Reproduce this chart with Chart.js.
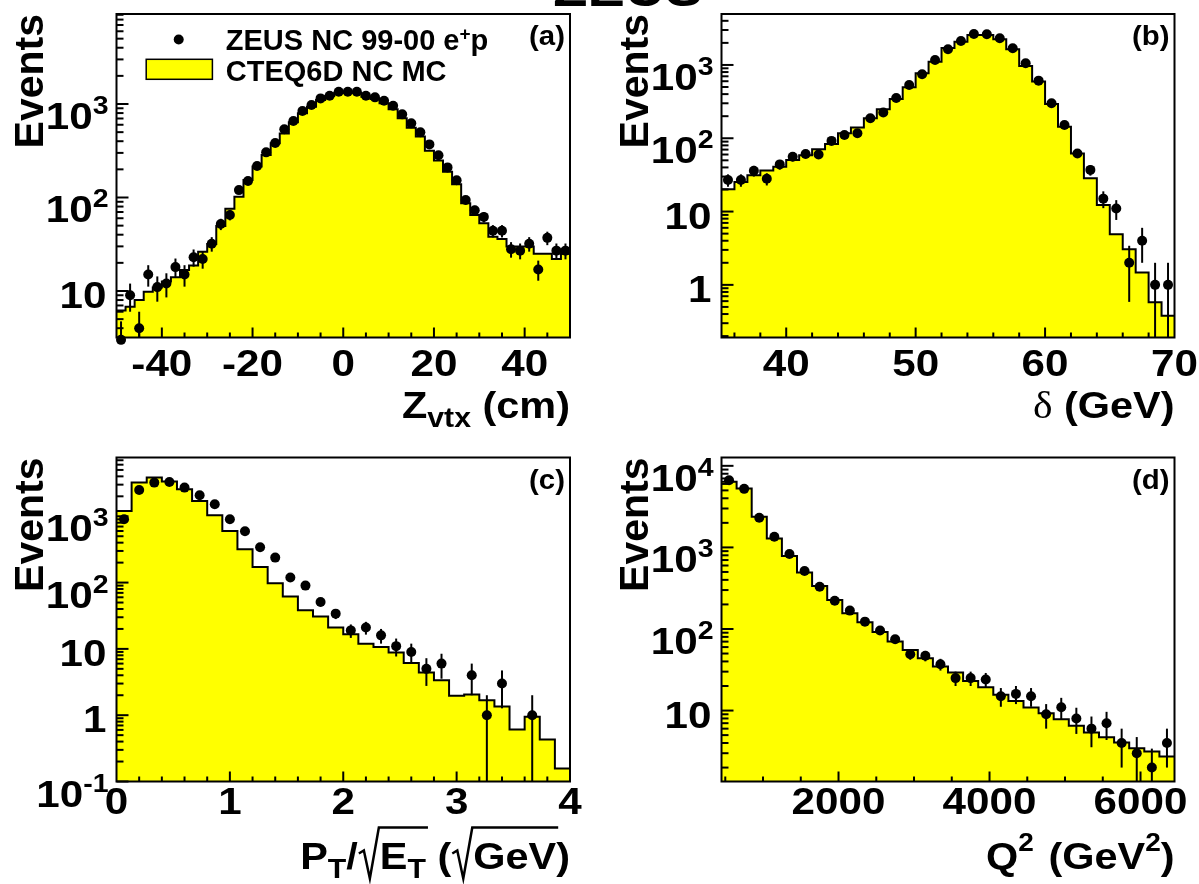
<!DOCTYPE html>
<html>
<head>
<meta charset="utf-8">
<script src="https://cdn.jsdelivr.net/npm/chart.js@4.4.1/dist/chart.umd.min.js"></script>
<style>
html,body{margin:0;padding:0;background:#fff;width:1199px;height:884px;overflow:hidden}
canvas{position:absolute;left:0;top:0}
</style>
</head>
<body>
<canvas id="ca" width="1199" height="884"></canvas>
<canvas id="cb" width="1199" height="884"></canvas>
<canvas id="cc" width="1199" height="884"></canvas>
<canvas id="cd" width="1199" height="884"></canvas>
<script>
// ---------------- data ----------------
// (a) Z_vtx, 50 bins from -50 to 50 cm
const zvtxRange = [-50, 50];
const zvtxData = [3, 9, 4, 15, 11, 12, 18, 15, 23, 22, 32, 52, 65, 120, 150, 217, 304, 383, 536, 658,
  841, 975, 1148, 1227, 1350, 1355, 1355, 1227, 1178, 1086, 960, 775, 621, 498, 370, 283, 210, 153, 94, 73,
  62, 44, 44, 28, 27, 32, 17, 37, 27, 27];
const zvtxMC = [6.2, 6.8, 8.0, 9.8, 10.9, 12.6, 14.0, 16.8, 18.7, 26.3, 31.8, 49.6, 76, 102, 154, 214, 285, 380, 485, 637,
  795, 935, 1104, 1218, 1322, 1340, 1320, 1197, 1130, 1016, 877, 703, 559, 448, 317, 248, 189, 139, 87, 65,
  53, 38, 36, 30, 30, 30, 25, 25, 22, 25];
const zvtxYRange = [3.18, 9180];
const zvtxTicks = [-40, -20, 0, 20, 40];
const zvtxDecades = [1, 2, 3];

// (b) delta, 35 bins from 35 to 70 GeV
const deltaRange = [35, 70];
const deltaData = [27, 27, 36, 28, 44, 56, 61, 60, 92, 111, 117, 187, 224, 355, 534, 746, 1170, 1637, 2125, 2646,
  2618, 2310, 1687, 1054, 611, 300, 152, 62, 37, 15, 11, 2, 4, 1, 1];
const deltaMC = [20.2, 25.4, 31.3, 36.2, 41, 50.7, 58.6, 70.8, 83.7, 117, 140, 187, 248, 344, 496, 770, 1110, 1700, 2080, 2565,
  2565, 2240, 1636, 969, 593, 294, 144, 62, 28.5, 12.3, 4.9, 3.07, 1.47, 0.58, 0.38];
const deltaYRange = [0.1914, 4955];
const deltaTicks = [40, 50, 60, 70];
const deltaDecades = [0, 1, 2, 3];

// (c) PT/sqrt(ET), 30 bins from 0 to 4
const ptRange = [0, 4];
const ptData = [901, 2495, 3220, 3296, 2706, 2073, 1517, 901, 594, 341, 238, 119, 90, 51, 34,
  19, 21, 16, 11, 9, 5, 6, null, 4, 1, 3, null, 1, null, null];
const ptMC = [1203, 3220, 3830, 3333, 2553, 1702, 1035, 601, 318, 172, 98, 61.5, 38.3, 30.7, 21,
  16.6, 12.0, 10.7, 8.8, 6.1, 4.4, 3.37, 1.96, 2.05, 1.68, 1.35, 0.61, 0.95, 0.43, 0.157];
const ptYRange = [0.1, 7700];
const ptTicks = [0, 1, 2, 3, 4];
const ptDecades = [-1, 0, 1, 2, 3];

// (d) Q^2, 30 bins from 450 to 6450 GeV^2
const q2Range = [450, 6450];
const q2Data = [6670, 5220, 2310, 1350, 830, 513, 330, 222, 168, 123, 96, 75, 49, 47, 37,
  25, 25, 24, 15, 16, 15, 9, 11, 8, 6, 7, 4, 3, 2, 4];
const q2MC = [6370, 5275, 2376, 1288, 783, 494, 336, 226, 156, 121, 92, 70, 55.3, 43.7, 34.6,
  29.2, 23.1, 19.3, 15.6, 13.1, 10.9, 9.3, 7.8, 6.5, 5.4, 4.7, 4.05, 3.46, 3.15, 2.74];
const q2YRange = [1.35, 12650];
const q2Ticks = [2000, 4000, 6000];
const q2Decades = [1, 2, 3, 4];

const legendData = 'ZEUS NC 99-00 e';
const legendMC = 'CTEQ6D NC MC';

// ---------------- helpers ----------------
const FONT = '"Liberation Sans", Arial, Helvetica, sans-serif';
const SERIF = '"Liberation Serif", "DejaVu Serif", serif';
const YELLOW = '#ffff00';

function binEdges(range, n) {
  const w = (range[1] - range[0]) / n;
  const e = [];
  for (let i = 0; i <= n; i++) e.push(range[0] + i * w);
  return e;
}
function histPoints(values, range) {
  const e = binEdges(range, values.length);
  const pts = values.map((v, i) => ({x: e[i], y: v}));
  pts.push({x: e[values.length], y: values[values.length - 1]});
  return pts;
}
function dataPoints(values, range) {
  const e = binEdges(range, values.length);
  const pts = [];
  values.forEach((v, i) => { if (v !== null && v > 0) pts.push({x: (e[i] + e[i + 1]) / 2, y: v}); });
  return pts;
}

function drawParts(ctx, parts, x, y, align, base) {
  const ps = parts.map(p => {
    const q = Object.assign({size: base.size, sx: base.sx, weight: 'bold', family: FONT, dy: 0}, p);
    if (q.rad) { q.w = q.radW || 22; return q; }
    ctx.font = q.weight + ' ' + q.size + 'px ' + q.family;
    q.w = ctx.measureText(q.t).width * q.sx + (q.pad || 0);
    return q;
  });
  const total = ps.reduce((s, p) => s + p.w, 0);
  let cx = align === 'right' ? x - total : align === 'center' ? x - total / 2 : x;
  const xs = [];
  ps.forEach(p => { xs.push(cx); cx += p.w; });
  ps.forEach((p, i) => {
    if (p.rad) {
      let end = xs[i] + p.w;
      for (let k = 1; k <= p.rad; k++) end = xs[i + k] + ps[i + k].w;
      const x0 = xs[i];
      ctx.save();
      ctx.strokeStyle = '#000'; ctx.lineWidth = 2.5; ctx.lineJoin = 'miter';
      ctx.beginPath();
      ctx.moveTo(x0 + 1, y - 15); ctx.lineTo(x0 + 6, y - 18); ctx.lineTo(x0 + 12, y + 10);
      ctx.lineTo(x0 + p.w - 1, y - 41); ctx.lineTo(end + 2, y - 41);
      ctx.stroke();
      ctx.restore();
    } else {
      ctx.save();
      ctx.font = p.weight + ' ' + p.size + 'px ' + p.family;
      ctx.fillStyle = '#000'; ctx.textAlign = 'left'; ctx.textBaseline = 'alphabetic';
      ctx.translate(xs[i], y + p.dy); ctx.scale(p.sx, 1);
      ctx.fillText(p.t, 0, 0);
      ctx.restore();
    }
  });
  return total;
}

// ---------------- panels ----------------
const TITLE = {size: 37, sx: 1.12};
const panels = {
  ca: {frame: {l: 116.5, r: 570, t: 14, b: 337.5}, xr: zvtxRange, yr: zvtxYRange, data: zvtxData, mc: zvtxMC,
       xTicks: zvtxTicks, xMinor: 5, yDecades: zvtxDecades, tag: '(a)', tickDy: 38, titleDy: 80,
       title: [{t: 'Z'}, {t: 'vtx', size: 27, dy: 9}, {t: ' (cm)'}], legend: true, zeus: true},
  cb: {frame: {l: 721.5, r: 1174.5, t: 14, b: 337.5}, xr: deltaRange, yr: deltaYRange, data: deltaData, mc: deltaMC,
       xTicks: deltaTicks, xMinor: 2, yDecades: deltaDecades, tag: '(b)', tickDy: 38, titleDy: 80,
       title: [{t: '\u03b4', weight: 'normal', family: SERIF}, {t: ' (GeV)'}]},
  cc: {frame: {l: 116.5, r: 570, t: 457.5, b: 781.5}, xr: ptRange, yr: ptYRange, data: ptData, mc: ptMC,
       xTicks: ptTicks, xMinor: 0.2, yDecades: ptDecades, tag: '(c)', tickDy: 32, titleDy: 87,
       title: [{t: 'P'}, {t: 'T', size: 27, dy: 9}, {t: '/'}, {rad: 2, radW: 22}, {t: 'E'}, {t: 'T', size: 27, dy: 9},
               {t: ' ('}, {rad: 1, radW: 22}, {t: 'GeV'}, {t: ')'}]},
  cd: {frame: {l: 721.5, r: 1174.5, t: 457.5, b: 781.5}, xr: q2Range, yr: q2YRange, data: q2Data, mc: q2MC,
       xTicks: q2Ticks, xMinor: 500, yDecades: q2Decades, tag: '(d)', tickDy: 32, titleDy: 87,
       title: [{t: 'Q'}, {t: '2', size: 25, dy: -18, pad: 3}, {t: ' (GeV'}, {t: '2', size: 25, dy: -18}, {t: ')'}]}
};

const rootPlugin = {
  id: 'rootAxes',
  beforeDatasetDraw(chart, args) {
    if (args.index !== 0) return;
    const cfg = panels[chart.canvas.id];
    const xs = chart.scales.x, ys = chart.scales.y, a = chart.chartArea;
    const ctx = chart.ctx;
    ctx.save();
    ctx.strokeStyle = '#000'; ctx.lineWidth = 2;
    dataPoints(cfg.data, cfg.xr).forEach(p => {
      const e = Math.sqrt(p.y);
      const px = xs.getPixelForValue(p.x);
      let yHi = ys.getPixelForValue(p.y + e);
      let yLo = (p.y - e) > 0 ? ys.getPixelForValue(p.y - e) : a.bottom;
      yHi = Math.max(a.top, Math.min(a.bottom, yHi));
      yLo = Math.max(a.top, Math.min(a.bottom, yLo));
      ctx.beginPath(); ctx.moveTo(px, yLo); ctx.lineTo(px, yHi); ctx.stroke();
    });
    ctx.restore();
  },
  afterDatasetsDraw(chart) {
    const cfg = panels[chart.canvas.id];
    const xs = chart.scales.x, ys = chart.scales.y, a = chart.chartArea;
    const ctx = chart.ctx;
    ctx.save();
    ctx.strokeStyle = '#000'; ctx.lineWidth = 2;
    ctx.strokeRect(a.left, a.top, a.right - a.left, a.bottom - a.top);
    const k0 = Math.ceil(cfg.xr[0] / cfg.xMinor - 1e-9), k1 = Math.floor(cfg.xr[1] / cfg.xMinor + 1e-9);
    for (let k = k0; k <= k1; k++) {
      const v = k * cfg.xMinor;
      const isMajor = cfg.xTicks.some(t => Math.abs(t - v) < 1e-6);
      const px = xs.getPixelForValue(v);
      if (px < a.left + 1 || px > a.right - 1) continue;
      ctx.beginPath(); ctx.moveTo(px, a.bottom); ctx.lineTo(px, a.bottom - (isMajor ? 10 : 5)); ctx.stroke();
    }
    const d0 = Math.floor(Math.log10(cfg.yr[0])), d1 = Math.ceil(Math.log10(cfg.yr[1]));
    for (let d = d0; d <= d1; d++) {
      for (let m = 1; m <= 9; m++) {
        const v = m * Math.pow(10, d);
        if (v < cfg.yr[0] || v > cfg.yr[1]) continue;
        const py = ys.getPixelForValue(v);
        ctx.beginPath(); ctx.moveTo(a.left, py); ctx.lineTo(a.left + (m === 1 ? 12 : 7), py); ctx.stroke();
      }
    }
    ctx.restore();
  },
  afterDraw(chart) {
    const cfg = panels[chart.canvas.id];
    const xs = chart.scales.x, ys = chart.scales.y, a = chart.chartArea;
    const ctx = chart.ctx;
    const TICK = {size: 37, sx: 1.14};
    cfg.xTicks.forEach(t => {
      drawParts(ctx, [{t: String(t)}], xs.getPixelForValue(t), a.bottom + cfg.tickDy, 'center', TICK);
    });
    cfg.yDecades.forEach(e => {
      const py = ys.getPixelForValue(Math.pow(10, e));
      if (e === 0) drawParts(ctx, [{t: '1'}], a.left - 10, py + 17, 'right', TICK);
      else if (e === 1) drawParts(ctx, [{t: '10'}], a.left - 10, py + 17, 'right', TICK);
      else drawParts(ctx, [{t: '10', dy: 25}, {t: String(e), size: 25, dy: 10}], a.left - 8, py, 'right', TICK);
    });
    drawParts(ctx, cfg.title, a.right, a.bottom + cfg.titleDy, 'right', TITLE);
    ctx.save();
    ctx.translate(a.left - 73.5, a.top);
    ctx.rotate(-Math.PI / 2);
    ctx.font = 'bold 41px ' + FONT; ctx.fillStyle = '#000';
    ctx.textAlign = 'right'; ctx.textBaseline = 'alphabetic';
    ctx.fillText('Events', 0, 0);
    ctx.restore();
    drawParts(ctx, [{t: cfg.tag}], a.right - 5, a.top + 31, 'right', {size: 28, sx: 1.05});
    if (cfg.legend) {
      ctx.save();
      ctx.fillStyle = '#000';
      ctx.beginPath(); ctx.arc(178.7, 39.5, 5, 0, Math.PI * 2); ctx.fill();
      ctx.fillStyle = YELLOW; ctx.fillRect(146.2, 59.3, 66.2, 20);
      ctx.strokeStyle = '#000'; ctx.lineWidth = 1.5; ctx.strokeRect(146.2, 59.3, 66.2, 20);
      ctx.restore();
      const LEG = {size: 29, sx: 1.0};
      drawParts(ctx, [{t: legendData}, {t: '+', size: 19, dy: -10}, {t: 'p'}], 225.8, 50, 'left', LEG);
      drawParts(ctx, [{t: legendMC}], 225.8, 81, 'left', LEG);
    }
    if (cfg.zeus) {
      drawParts(ctx, [{t: 'ZEUS'}], 628, 6, 'center', {size: 50, sx: 1.12});
    }
  }
};

function makeChart(id) {
  const cfg = panels[id];
  const f = cfg.frame;
  return new Chart(document.getElementById(id), {
    type: 'line',
    data: {
      datasets: [
        {
          label: 'data', data: dataPoints(cfg.data, cfg.xr), showLine: false,
          pointRadius: 5, pointHoverRadius: 5, pointBackgroundColor: '#000', pointBorderWidth: 0,
          borderColor: '#000', order: 0, clip: false
        },
        {
          label: 'mc', data: histPoints(cfg.mc, cfg.xr), stepped: true, fill: 'start',
          backgroundColor: YELLOW, borderColor: '#000', borderWidth: 2, pointRadius: 0,
          borderJoinStyle: 'miter', order: 1, clip: 0
        }
      ]
    },
    options: {
      responsive: false, animation: false, devicePixelRatio: 1, events: [],
      layout: {padding: {left: f.l, top: f.t, right: 1199 - f.r, bottom: 884 - f.b}},
      plugins: {legend: {display: false}, tooltip: {enabled: false}},
      scales: {
        x: {type: 'linear', min: cfg.xr[0], max: cfg.xr[1], display: false},
        y: {type: 'logarithmic', min: cfg.yr[0], max: cfg.yr[1], display: false}
      }
    },
    plugins: [rootPlugin]
  });
}
['ca', 'cb', 'cc', 'cd'].forEach(makeChart);
</script>
</body>
</html>
